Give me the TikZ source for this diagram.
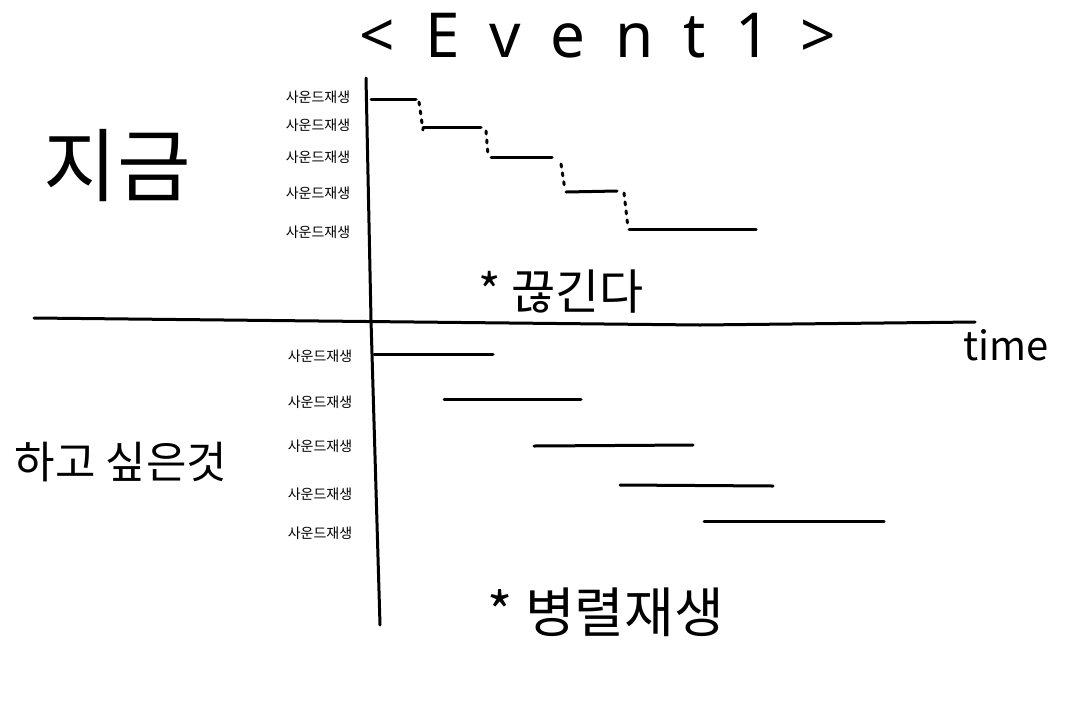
\documentclass[tikz,border=0pt]{standalone}
\usepackage{fontspec}
\newfontfamily\kr{Noto Sans CJK KR}
\setmainfont{Noto Sans}
\begin{document}
\begin{tikzpicture}[x=1pt,y=-1pt,
  ink/.style={line width=3pt,line cap=round},
  dots/.style={line width=3pt,line cap=round,dash pattern=on 3pt off 6pt},
  small/.style={font=\kr\fontsize{14}{14}\selectfont,inner sep=0pt},
  big/.style={font=\kr\fontsize{#1}{#1}\selectfont,inner sep=0pt}]
\useasboundingbox (0,0) rectangle (1073,702);
% title
\node[inner sep=0pt,font=\fontsize{62}{62}\selectfont\addfontfeature{LetterSpace=48}] (title) at (598,36) {<Event1>};
% axes
\coordinate (vt) at (366,78);
\coordinate (vm) at (371,320);
\coordinate (vb) at (380,625);
\draw[ink] (vt) -- (vm) -- (vb);
\coordinate (hl) at (34,318);
\coordinate (hm) at (700,325);
\coordinate (hr) at (975,322);
\draw[ink] (hl) -- (hm) -- (hr);
\node[big=40] (time) at (1006,345) {time};
\node[big=80] (now) at (117,166) {지금};
\node[big=44] (want) at (121,462) {하고 싶은것};
% labels
\foreach \y [count=\i] in {97,125,157,193,232}
  \node[small] (u\i) at (318,\y) {사운드재생};
\foreach \y [count=\i] in {356,402,446,494,533}
  \node[small] (l\i) at (320,\y) {사운드재생};
% upper steps
\coordinate (a1) at (371,99);  \coordinate (a2) at (416,99);
\coordinate (b1) at (423,127); \coordinate (b2) at (481,127);
\coordinate (c1) at (491,157); \coordinate (c2) at (552,157);
\coordinate (d1) at (566,192); \coordinate (d2) at (617,191);
\coordinate (e1) at (629,229); \coordinate (e2) at (756,229);
\draw[ink] (a1) -- (a2);
\draw[ink] (b1) -- (b2);
\draw[ink] (c1) -- (c2);
\draw[ink] (d1) -- (d2);
\draw[ink] (e1) -- (e2);
\draw[dots] (419,102) -- (423,130);
\draw[dots] (486,131) -- (488,155);
\draw[dots] (561,164) -- (565,190);
\draw[dots] (624,193) -- (628,228);
\node[big=48] (cut) at (561,292) {* 끊긴다};
% lower lines
\coordinate (p1) at (374,354); \coordinate (p2) at (493,354);
\coordinate (q1) at (444,399); \coordinate (q2) at (581,399);
\coordinate (r1) at (534,446); \coordinate (r2) at (693,445);
\coordinate (s1) at (620,485); \coordinate (s2) at (773,486);
\coordinate (t1) at (704,521); \coordinate (t2) at (884,521);
\draw[ink] (p1) -- (p2);
\draw[ink] (q1) -- (q2);
\draw[ink] (r1) -- (r2);
\draw[ink] (s1) -- (s2);
\draw[ink] (t1) -- (t2);
\node[big=54] (par) at (606,612) {* 병렬재생};
\end{tikzpicture}
\end{document}
